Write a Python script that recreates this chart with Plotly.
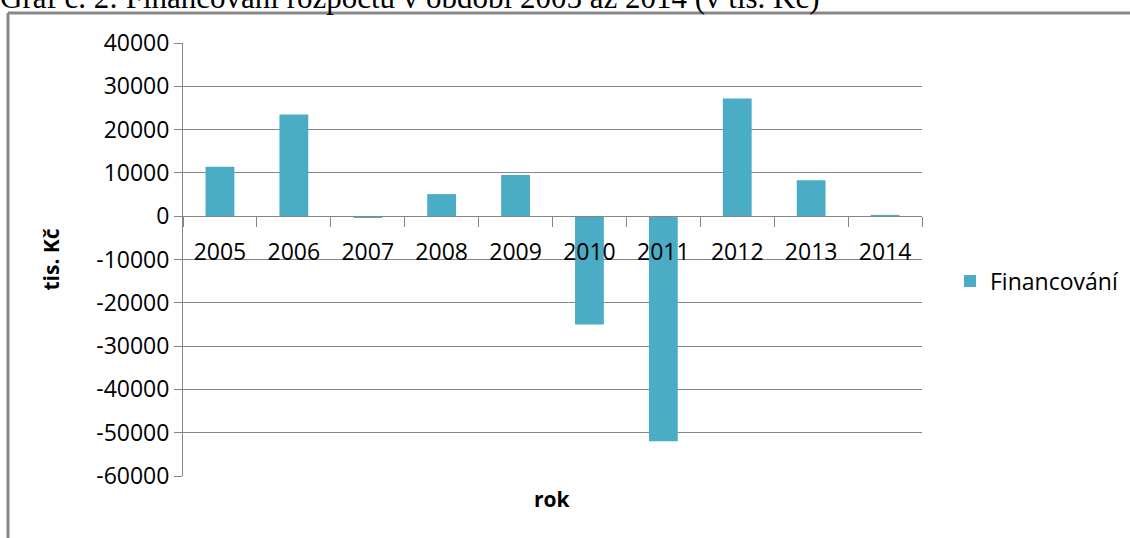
import plotly.graph_objects as go

years = ["2005", "2006", "2007", "2008", "2009", "2010", "2011", "2012", "2013", "2014"]
financovani = [11400, 23500, -400, 5100, 9500, -25000, -52000, 27200, 8300, 300]
y_ticks = [40000, 30000, 20000, 10000, 0, -10000, -20000, -30000, -40000, -50000, -60000]

W, H = 1130, 538
L, R, T, B = 183, 208, 43, 62
PW = W - L - R
PH = H - T - B
FONT = "Open Sans"
GRID = "#868686"


def px(x):
    return (x - L) / PW


def py(y):
    return (H - B - y) / PH


fig = go.Figure()
fig.add_trace(go.Bar(
    x=years, y=financovani, name="Financování",
    marker=dict(color="#4BACC6", line=dict(width=0)),
    showlegend=True,
))

fig.update_layout(
    width=W, height=H,
    margin=dict(l=L, r=R, t=T, b=B, autoexpand=False),
    paper_bgcolor="white", plot_bgcolor="white",
    bargap=0.61,
    font=dict(family=FONT, color="black", size=23),
    xaxis=dict(
        type="category",
        anchor="free", position=0.6,
        showline=True, linecolor=GRID, linewidth=1,
        ticks="outside", tickson="boundaries", ticklen=10, tickcolor=GRID,
        tickfont=dict(family=FONT, size=23, color="black"),
        ticklabelstandoff=15,
        showgrid=False, zeroline=False,
        layer="above traces",
    ),
    yaxis=dict(
        range=[-60000, 40000],
        tickvals=y_ticks, ticktext=[str(v) for v in y_ticks],
        showline=True, linecolor=GRID, linewidth=1,
        ticks="outside", ticklen=8, tickcolor=GRID,
        showgrid=True, gridcolor=GRID, gridwidth=1,
        zeroline=False,
        tickfont=dict(family=FONT, size=23, color="black"),
        title=dict(text="<b>tis. Kč</b>", font=dict(family=FONT, size=21), standoff=30),
    ),
    legend=dict(
        x=px(950), xanchor="left",
        y=py(281), yanchor="middle",
        font=dict(family=FONT, size=23, color="black"),
        itemwidth=30,
    ),
)

fig.add_annotation(text="<b>rok</b>", xref="paper", yref="paper", x=0.5, y=py(499),
                   showarrow=False, font=dict(family=FONT, size=21, color="black"),
                   xanchor="center", yanchor="middle")

# outer chart frame (top and left borders visible)
fig.add_shape(type="line", xref="paper", yref="paper",
              x0=px(8), x1=px(W + 5), y0=py(13), y1=py(13),
              line=dict(color="#888888", width=3))
fig.add_shape(type="line", xref="paper", yref="paper",
              x0=px(8), x1=px(8), y0=py(13), y1=py(H + 5),
              line=dict(color="#888888", width=3))

# document caption, cropped at the top
fig.add_annotation(text="Graf č. 2: Financování rozpočtu v období 2005 až 2014 (v tis. Kč)",
                   xref="paper", yref="paper",
                   x=px(-2), y=py(17),
                   xanchor="left", yanchor="bottom", showarrow=False,
                   font=dict(family="Liberation Serif", size=31, color="black"))

fig.write_html("out.html")
